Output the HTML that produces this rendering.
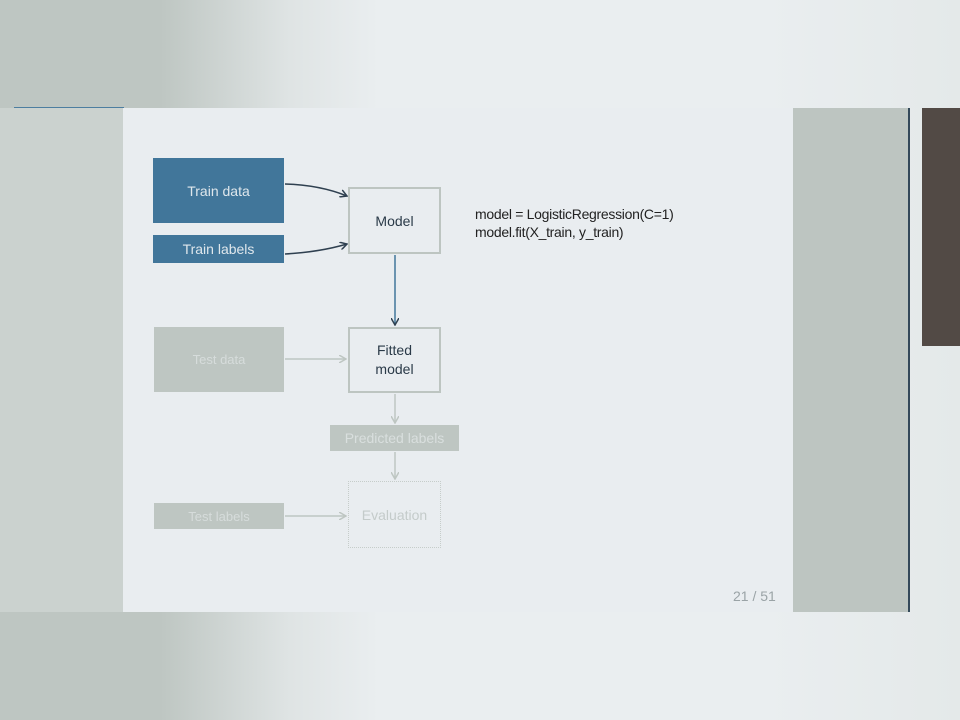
<!DOCTYPE html>
<html><head><style>
html,body{margin:0;padding:0;}
body{width:960px;height:720px;position:relative;overflow:hidden;font-family:"Liberation Sans",sans-serif;
background:linear-gradient(90deg,#bec6c2 0px,#bec6c2 160px,#dfe4e4 290px,#eaeef0 380px,#eaeef0 100%);}
.fadeR{position:absolute;right:0;top:0;width:200px;height:720px;background:linear-gradient(90deg,rgba(234,238,240,0),#e4e9e9 100%);}
.a{position:absolute;box-sizing:border-box;}
.t{display:flex;align-items:center;justify-content:center;text-align:center;}
</style></head><body>
<div class="fadeR"></div>
<div class="a" style="left:14px;top:107px;width:110px;height:1px;background:#4d7ea0"></div>
<div class="a" style="left:0;top:108px;width:123px;height:504px;background:#cbd2cf"></div>
<div class="a" style="left:123px;top:108px;width:670px;height:504px;background:#e9edf0"></div>
<div class="a" style="left:793px;top:108px;width:115px;height:504px;background:#bdc5c1"></div>
<div class="a" style="left:908px;top:108px;width:2px;height:504px;background:#34495a"></div>
<div class="a" style="left:922px;top:108px;width:38px;height:238px;background:#524a45"></div>

<div class="a t" style="left:153px;top:158px;width:131px;height:65px;background:#41769a;color:#dfe7ec;font-size:14px">Train data</div>
<div class="a t" style="left:153px;top:235px;width:131px;height:28px;background:#41769a;color:#dfe7ec;font-size:14px">Train labels</div>
<div class="a t" style="left:348px;top:187px;width:93px;height:67px;border:2px solid #bdc5c1;color:#2a3a48;font-size:14px">Model</div>
<div class="a t" style="left:348px;top:327px;width:93px;height:66px;border:2px solid #bdc5c1;color:#2a3a48;font-size:14px;line-height:19px">Fitted<br>model</div>
<div class="a t" style="left:154px;top:327px;width:130px;height:65px;background:#bec6c2;color:#d6dcdb;font-size:13px">Test data</div>
<div class="a t" style="left:330px;top:425px;width:129px;height:26px;background:#bec6c2;color:#d9dfde;font-size:14px">Predicted labels</div>
<div class="a t" style="left:348px;top:481px;width:93px;height:67px;border:1px dotted #c6cdca;color:#c4cbca;font-size:14px">Evaluation</div>
<div class="a t" style="left:154px;top:503px;width:130px;height:26px;background:#bec6c2;color:#d6dcdb;font-size:13px">Test labels</div>

<svg class="a" style="left:0;top:0" width="960" height="720">
<defs>
<marker id="d" markerWidth="8" markerHeight="8" refX="7" refY="4" orient="auto" markerUnits="userSpaceOnUse"><path d="M0,0 L7,4 L0,8" fill="none" stroke="#2f4050" stroke-width="1.5"/></marker>
<marker id="g" markerWidth="8" markerHeight="8" refX="7" refY="4" orient="auto" markerUnits="userSpaceOnUse"><path d="M0,0 L7,4 L0,8" fill="none" stroke="#bec6c2" stroke-width="1.5"/></marker>
</defs>
<path d="M285,184 Q320,185 347,196" fill="none" stroke="#2f4050" stroke-width="1.6" marker-end="url(#d)"/>
<path d="M285,254 Q320,252 347,244" fill="none" stroke="#2f4050" stroke-width="1.6" marker-end="url(#d)"/>
<line x1="395" y1="255" x2="395" y2="325" stroke="#41769a" stroke-width="1.5" marker-end="url(#d)"/>
<line x1="285" y1="359" x2="346" y2="359" stroke="#bec6c2" stroke-width="1.5" marker-end="url(#g)"/>
<line x1="395" y1="394" x2="395" y2="423" stroke="#bec6c2" stroke-width="1.5" marker-end="url(#g)"/>
<line x1="395" y1="452" x2="395" y2="479" stroke="#bec6c2" stroke-width="1.5" marker-end="url(#g)"/>
<line x1="285" y1="516" x2="346" y2="516" stroke="#bec6c2" stroke-width="1.5" marker-end="url(#g)"/>
</svg>

<div class="a" style="left:475px;top:205px;font-size:14px;line-height:18px;color:#222;letter-spacing:-0.3px">model = LogisticRegression(C=1)<br>model.fit(X_train, y_train)</div>
<div class="a" style="left:733px;top:588px;font-size:14px;color:#9aa3a6">21 / 51</div>
</body></html>
